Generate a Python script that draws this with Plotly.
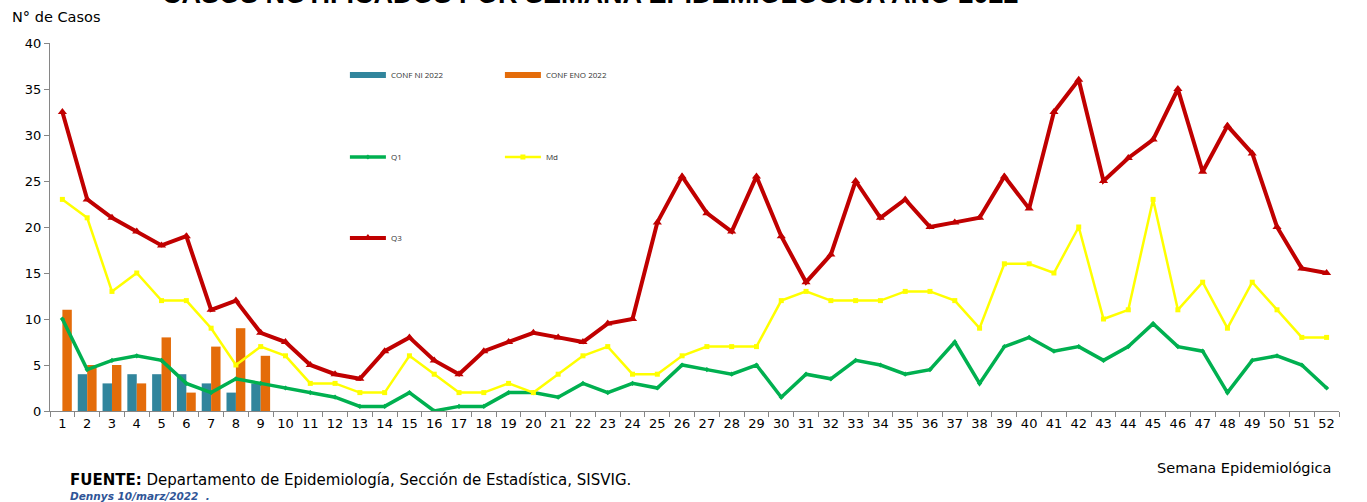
import plotly.graph_objects as go

weeks = [str(w) for w in range(1, 53)]
bar_weeks = [str(w) for w in range(1, 10)]
conf_ni = [None, 4, 3, 4, 4, 4, 3, 2, 3]
conf_eno = [11, 5, 5, 3, 8, 2, 7, 9, 6]
q1 = [10, 4.5, 5.5, 6, 5.5, 3, 2, 3.5, 3, 2.5, 2, 1.5, 0.5, 0.5, 2, 0, 0.5, 0.5, 2, 2,
      1.5, 3, 2, 3, 2.5, 5, 4.5, 4, 5, 1.5, 4, 3.5, 5.5, 5, 4, 4.5, 7.5, 3, 7, 8,
      6.5, 7, 5.5, 7, 9.5, 7, 6.5, 2, 5.5, 6, 5, 2.5]
md = [23, 21, 13, 15, 12, 12, 9, 5, 7, 6, 3, 3, 2, 2, 6, 4, 2, 2, 3, 2,
      4, 6, 7, 4, 4, 6, 7, 7, 7, 12, 13, 12, 12, 12, 13, 13, 12, 9, 16, 16,
      15, 20, 10, 11, 23, 11, 14, 9, 14, 11, 8, 8]
q3 = [32.5, 23, 21, 19.5, 18, 19, 11, 12, 8.5, 7.5, 5, 4, 3.5, 6.5, 8, 5.5, 4, 6.5, 7.5, 8.5,
      8, 7.5, 9.5, 10, 20.5, 25.5, 21.5, 19.5, 25.5, 19, 14, 17, 25, 21, 23, 20, 20.5, 21, 25.5, 22,
      32.5, 36, 25, 27.5, 29.5, 35, 26, 31, 28, 20, 15.5, 15]

TEAL = "#31859C"
ORANGE = "#E46C0A"
GREEN = "#00B050"
YELLOW = "#FFFF00"
RED = "#C00000"

fig = go.Figure()
fig.add_trace(go.Bar(x=bar_weeks, y=conf_ni, name="CONF NI 2022", showlegend=False,
                     marker=dict(color=TEAL, line=dict(width=0))))
fig.add_trace(go.Bar(x=bar_weeks, y=conf_eno, name="CONF ENO 2022", showlegend=False,
                     marker=dict(color=ORANGE, line=dict(width=0))))
# legend entries for the bars (wide swatches)
fig.add_trace(go.Scatter(x=[weeks[0]], y=[None], name="CONF NI 2022", mode="lines",
                         line=dict(color=TEAL, width=6), legend="legend", hoverinfo="skip"))
fig.add_trace(go.Scatter(x=[weeks[0]], y=[None], name="CONF ENO 2022", mode="lines",
                         line=dict(color=ORANGE, width=6), legend="legend", hoverinfo="skip"))
fig.add_trace(go.Scatter(x=weeks, y=q1, name="Q1", mode="lines+markers",
                         line=dict(color=GREEN, width=3.5),
                         marker=dict(symbol="diamond", size=4, color=GREEN), legend="legend2"))
fig.add_trace(go.Scatter(x=weeks, y=md, name="Md", mode="lines+markers",
                         line=dict(color=YELLOW, width=2.5),
                         marker=dict(symbol="square", size=5, color=YELLOW), legend="legend2"))
fig.add_trace(go.Scatter(x=weeks, y=q3, name="Q3", mode="lines+markers",
                         line=dict(color=RED, width=4),
                         marker=dict(symbol="triangle-up", size=8, color=RED), legend="legend3"))

PW = 1289.4
PH = 368
def px(x):
    return (x - 50) / PW
def py(y):
    return (411 - y) / PH

legfont = dict(family="Open Sans", size=8, color="#333333")
common = dict(orientation="h", bgcolor="rgba(0,0,0,0)", font=legfont, xanchor="left",
              yanchor="middle", entrywidth=104, entrywidthmode="pixels", tracegroupgap=0,
              itemwidth=36)

fig.update_layout(
    width=1367, height=502,
    margin=dict(l=50, r=28, t=43, b=91),
    plot_bgcolor="white", paper_bgcolor="white",
    barmode="group", bargap=0.24, bargroupgap=0,
    showlegend=True,
    legend=dict(x=px(345), y=py(75), **common),
    legend2=dict(x=px(345), y=py(157), **common),
    legend3=dict(x=px(345), y=py(238), **common),
    xaxis=dict(type="category", categoryorder="array", categoryarray=weeks,
               range=[-0.5, 51.5], tickson="boundaries", tickangle=0, showgrid=False, showline=True,
               linecolor="#868686", linewidth=1, ticks="outside", ticklen=5,
               tickcolor="#868686",
               tickfont=dict(family="DejaVu Sans", size=13, color="#000000"), zeroline=False),
    yaxis=dict(range=[0, 40], dtick=5, showgrid=False, showline=True,
               linecolor="#868686", linewidth=1, ticks="outside", ticklen=5,
               tickcolor="#868686", tickfont=dict(family="DejaVu Sans", size=13, color="#000000"),
               zeroline=False),
    font=dict(family="DejaVu Sans"),
)

anns = [
    dict(text="<b>CASOS NOTIFICADOS POR SEMANA EPIDEMIOLOGICA AÑO 2022</b>",
         x=px(591), y=py(11), xref="paper", yref="paper", xanchor="center", yanchor="bottom",
         showarrow=False, font=dict(family="Liberation Sans", size=27, color="#000000")),
    dict(text="N° de Casos", x=px(10), y=py(17), xref="paper", yref="paper",
         xanchor="left", yanchor="middle", showarrow=False,
         font=dict(family="DejaVu Sans", size=14.5, color="#000000")),
    dict(text="Semana Epidemiológica", x=px(1155), y=py(468), xref="paper", yref="paper",
         xanchor="left", yanchor="middle", showarrow=False,
         font=dict(family="DejaVu Sans", size=14.5, color="#000000")),
    dict(text="<b>FUENTE:</b> Departamento de Epidemiología, Sección de Estadística, SISVIG.",
         x=px(68), y=py(480), xref="paper", yref="paper", xanchor="left", yanchor="middle",
         showarrow=False, font=dict(family="DejaVu Sans", size=15, color="#000000")),
    dict(text="<b><i>Dennys 10/marz/2022  .</i></b>", x=px(68), y=py(495.5), xref="paper", yref="paper",
         xanchor="left", yanchor="middle", showarrow=False,
         font=dict(family="DejaVu Sans", size=10.5, color="#2F5597")),
]
fig.update_layout(annotations=anns)

fig.write_html("out.html", config={"displayModeBar": False},
               post_script="document.body.style.margin='0';document.body.style.padding='0';")
